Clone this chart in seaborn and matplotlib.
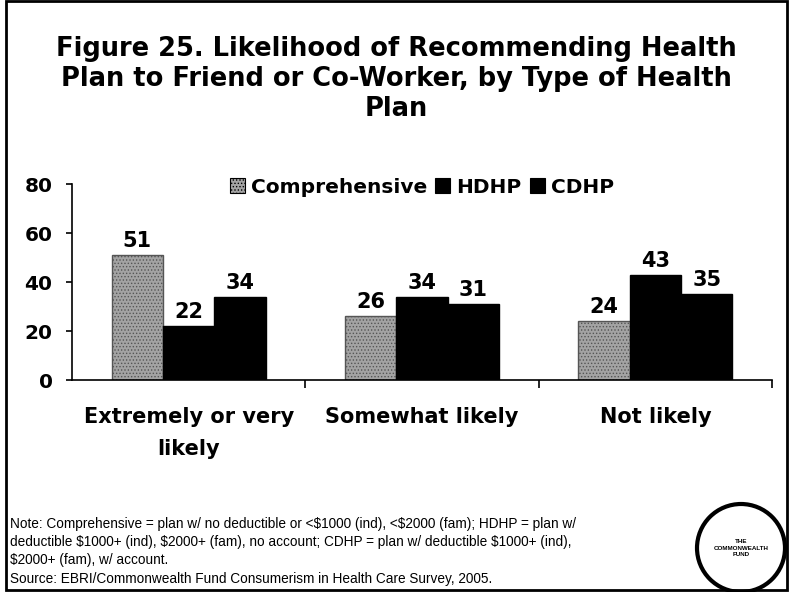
import numpy as np
import pandas as pd
import matplotlib
matplotlib.use('Agg')
import matplotlib.pyplot as plt
import matplotlib.patches as mpatches
import seaborn as sns

# ---- data ----
categories = ['Extremely or very\nlikely', 'Somewhat likely', 'Not likely']
plans = ['Comprehensive', 'HDHP', 'CDHP']
comprehensive = [51, 26, 24]
hdhp = [22, 34, 43]
cdhp = [34, 31, 35]

title = ('Figure 25. Likelihood of Recommending Health\n'
         'Plan to Friend or Co-Worker, by Type of Health\nPlan')
note_lines = ['Note: Comprehensive = plan w/ no deductible or <\\$1000 (ind), <\\$2000 (fam); HDHP = plan w/',
              'deductible \\$1000+ (ind), \\$2000+ (fam), no account; CDHP = plan w/ deductible \\$1000+ (ind),',
              '\\$2000+ (fam), w/ account.',
              'Source: EBRI/Commonwealth Fund Consumerism in Health Care Survey, 2005.']

df = pd.DataFrame({
    'category': categories * 3,
    'plan': np.repeat(plans, 3),
    'value': comprehensive + hdhp + cdhp,
})

sns.set_style('white')
plt.rcParams['font.family'] = ['Liberation Sans', 'DejaVu Sans']
plt.rcParams['hatch.linewidth'] = 0.6
plt.rcParams['text.color'] = 'black'
plt.rcParams['xtick.color'] = 'black'
plt.rcParams['ytick.color'] = 'black'
plt.rcParams['axes.edgecolor'] = 'black'
BOLD = ['DejaVu Sans']

fig = plt.figure(figsize=(7.93, 5.92), dpi=100)
ax = fig.add_axes([0.0908, 0.358, 0.8827, 0.331])

palette = {'Comprehensive': '#a3a3a3', 'HDHP': '#000000', 'CDHP': '#000000'}
sns.barplot(data=df, x='category', y='value', hue='plan', hue_order=plans,
            order=categories, palette=palette, width=0.66, ax=ax,
            edgecolor='black', linewidth=1, saturation=1, legend=False)

# textured grey for comprehensive bars
for bar in ax.containers[0]:
    bar.set_hatch('.....')
    bar.set_edgecolor('#555555')

for cont in ax.containers:
    ax.bar_label(cont, fmt='%d', padding=3, fontsize=15, fontweight='bold', family=BOLD)

ax.set_ylim(0, 80)
ax.set_xlim(-0.5, 2.5)
ax.set_yticks([0, 20, 40, 60, 80])
ax.set_xlabel('')
ax.set_ylabel('')
for s in ['top', 'right']:
    ax.spines[s].set_visible(False)
ax.spines['left'].set_linewidth(1.2)
ax.spines['bottom'].set_linewidth(1.2)
ax.tick_params(axis='y', length=4, width=1.2, labelsize=14.5, pad=10, direction='out', left=True)
for lab in ax.get_yticklabels():
    lab.set_fontweight('bold')
    lab.set_family(BOLD)

# x ticks at category boundaries, labels at centers
ax.set_xticks([0.5, 1.5, 2.5])
ax.set_xticklabels([])
ax.tick_params(axis='x', length=6, width=1.2, direction='out', bottom=True)
for i, c in enumerate(categories):
    ax.text(i, -11, c, ha='center', va='top', fontsize=15, fontweight='bold',
            family=BOLD, linespacing=1.75, clip_on=False)

# legend
handles = [mpatches.Patch(facecolor=palette[p], edgecolor='black', linewidth=0.8,
                          hatch='.....' if p == 'Comprehensive' else None) for p in plans]
ax.legend(handles, plans, ncol=3, loc='center', bbox_to_anchor=(0.5, 0.985),
          frameon=False, handlelength=0.75, handleheight=0.75, handletextpad=0.3,
          columnspacing=0.4, prop={'weight': 'bold', 'size': 14.5, 'family': BOLD})

fig.text(0.5, 0.94, title, ha='center', va='top', fontsize=18.5, fontweight='bold',
         family=BOLD, linespacing=1.22)

for k, (line, ypix) in enumerate(zip(note_lines, [524, 542, 560, 579])):
    fig.text(0.013, 1 - ypix / 592, line, ha='left', va='center', fontsize=9.8)

# logo
logo = mpatches.Circle((741, 592 - 548), 44, transform=None, fill=False,
                       edgecolor='black', linewidth=3)
fig.patches.append(logo)
fig.text(741 / 793, 1 - 548 / 592, 'THE\nCOMMONWEALTH\nFUND', ha='center', va='center',
         fontsize=4.5, fontweight='bold', linespacing=1.4)

# frame
fig.patches.append(mpatches.Rectangle((0.007, 0.004), 0.986, 0.994, transform=fig.transFigure,
                                      fill=False, edgecolor='black', linewidth=2))

fig.savefig('out.png', dpi=100)
